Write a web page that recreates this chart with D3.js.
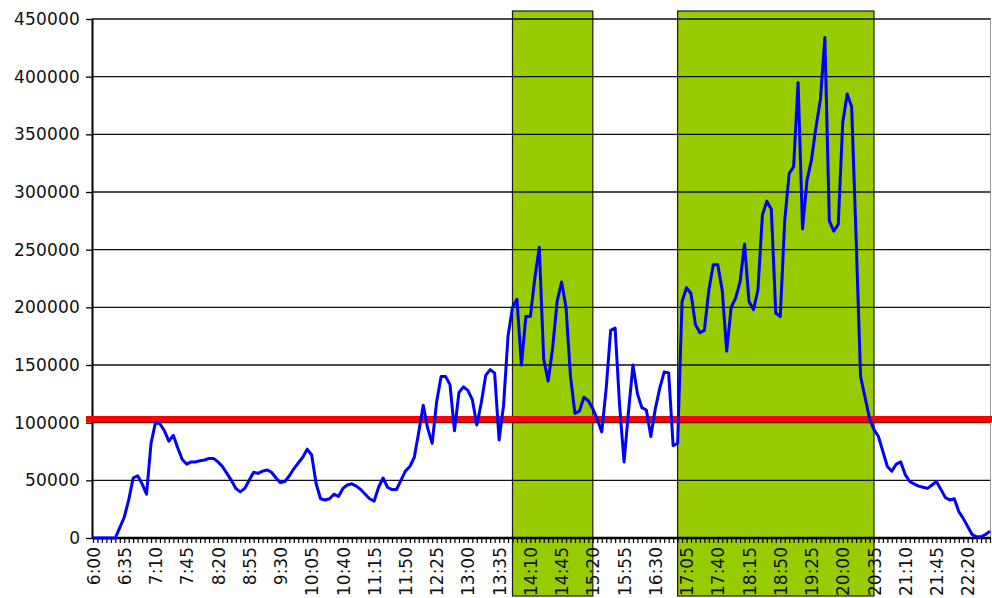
<!DOCTYPE html>
<html>
<head>
<meta charset="utf-8">
<script src="https://cdn.jsdelivr.net/npm/d3@7"></script>
<style>
  html, body { margin: 0; padding: 0; background: #fff; }
  svg { display: block; }
  text { font-family: "DejaVu Sans", Verdana, sans-serif; fill: #111; }
</style>
</head>
<body>
<svg id="chart" width="992" height="598"></svg>
<script>
// ---- data ----
// 5-minute categories from 6:00 to 22:45
const startMinutes = 6 * 60;
const stepMinutes = 5;
const categoryCount = 202;
const times = d3.range(categoryCount).map(i => {
  const m = startMinutes + i * stepMinutes;
  return Math.floor(m / 60) + ":" + String(m % 60).padStart(2, "0");
});
const labelEvery = 7;

const values = [
  0,0,0,0,0,0,9000,18000,33000,52000,
  54000,47000,38000,82000,100000,99000,93000,84000,89000,78000,
  68000,64000,66000,66000,67000,67600,69000,69000,66000,62000,
  56000,50000,43000,40000,43000,50000,57000,56000,58000,59000,
  57000,52000,48000,49000,54000,60000,65000,70000,77000,72000,
  47000,34000,33000,34000,38000,36000,43000,46000,47000,45000,
  42000,38000,34000,32000,44000,52000,44000,42000,42000,50000,
  58000,62000,70000,92000,115000,95000,82000,118000,140000,140000,
  133000,93000,126000,131000,128000,120000,98000,117000,141000,146000,
  143000,85000,115000,175000,200000,207000,150000,192000,192000,225000,
  252000,155000,136000,165000,205000,222000,200000,140000,108000,110000,
  122000,119000,112000,103000,92000,130000,180000,182000,115000,66000,
  110000,150000,125000,113000,111000,88000,112000,130000,144000,143000,
  80000,82000,205000,217000,212000,185000,178000,180000,215000,237000,
  237000,215000,162000,200000,208000,222000,255000,205000,198000,215000,
  280000,292000,285000,195000,192000,275000,316000,322000,395000,268000,
  310000,328000,356000,380000,434000,275000,266000,272000,360000,385000,
  374000,260000,140000,122000,104000,94000,88000,75000,62000,58000,
  64000,66000,55000,49000,47000,45000,44000,43000,46000,49000,
  42000,35000,33000,34000,23000,17000,10000,3000,1000,1000,
  3000,6000
];

const yTicks = [0,50000,100000,150000,200000,250000,300000,350000,400000,450000];
const threshold = 103000;
const highlightPeriods = [
  { from: "13:50", to: "15:20" },
  { from: "16:55", to: "20:35" }
];

// ---- layout ----
const svg = d3.select("#chart");
const plotLeft = 92, plotRight = 991, plotTop = 19, plotBottom = 538;

const x = d3.scalePoint().domain(times).range([93, 990]);
const y = d3.scaleLinear().domain([0, 450000]).range([plotBottom, plotTop]);

// highlight rectangles
svg.append("g").selectAll("rect").data(highlightPeriods).join("rect")
  .attr("x", d => x(d.from))
  .attr("width", d => x(d.to) - x(d.from))
  .attr("y", 11)
  .attr("height", 596 - 11)
  .attr("fill", "#99CC00")
  .attr("stroke", "#1a1a1a")
  .attr("stroke-width", 1.2);

// gridlines
svg.append("g").selectAll("line").data(yTicks).join("line")
  .attr("x1", plotLeft).attr("x2", plotRight)
  .attr("y1", d => y(d)).attr("y2", d => y(d))
  .attr("stroke", "#111").attr("stroke-width", 1.3);

// right border
svg.append("line")
  .attr("x1", 990.5).attr("x2", 990.5)
  .attr("y1", plotTop).attr("y2", plotBottom)
  .attr("stroke", "#999").attr("stroke-width", 1);

// y axis
const yAxis = svg.append("g")
  .attr("transform", `translate(${plotLeft},0)`)
  .call(d3.axisLeft(y).tickValues(yTicks).tickFormat(d3.format("d"))
    .tickSize(6).tickSizeOuter(0).tickPadding(6));
yAxis.attr("font-family", null);
yAxis.select(".domain").attr("stroke", "#000").attr("stroke-width", 2);
yAxis.selectAll(".tick line").attr("stroke", "#000").attr("stroke-width", 1.3);
yAxis.selectAll("text").style("font-size", "17px").attr("fill", "#111");

// widen labels to the reference's glyph pitch (~11px per digit)
yAxis.selectAll("text").each(function () {
  const n = this.textContent.length;
  const w = this.getComputedTextLength();
  const target = n * 11;
  if (n > 1 && w < target) {
    d3.select(this).style("letter-spacing", ((target - w) / n) + "px");
  }
});

// x axis
const xAxis = svg.append("g")
  .attr("transform", `translate(0,${plotBottom})`)
  .call(d3.axisBottom(x)
    .tickFormat((d, i) => (i % labelEvery === 0 ? d : ""))
    .tickSize(5).tickSizeOuter(0));
xAxis.attr("font-family", null);
xAxis.select(".domain").attr("stroke", "#000").attr("stroke-width", 2.5)
  .attr("d", `M${plotLeft},0H${plotRight}`);
xAxis.selectAll(".tick line").attr("stroke", "#000").attr("stroke-width", 1.2);
xAxis.selectAll("text")
  .style("font-size", "17px")
  .attr("fill", "#111")
  .attr("text-anchor", "end")
  .attr("transform", "rotate(-90)")
  .attr("x", -9)
  .attr("y", 0)
  .attr("dy", "0.36em");

// threshold line
svg.append("line")
  .attr("x1", 86).attr("x2", 992)
  .attr("y1", y(threshold)).attr("y2", y(threshold))
  .attr("stroke", "#FF0000").attr("stroke-width", 6.5);

// data line
const line = d3.line()
  .x((d, i) => x(times[i]))
  .y(d => y(d));
svg.append("path")
  .datum(values)
  .attr("d", line)
  .attr("fill", "none")
  .attr("stroke", "#0000FF")
  .attr("stroke-width", 3)
  .attr("stroke-linejoin", "round");
</script>
</body>
</html>
